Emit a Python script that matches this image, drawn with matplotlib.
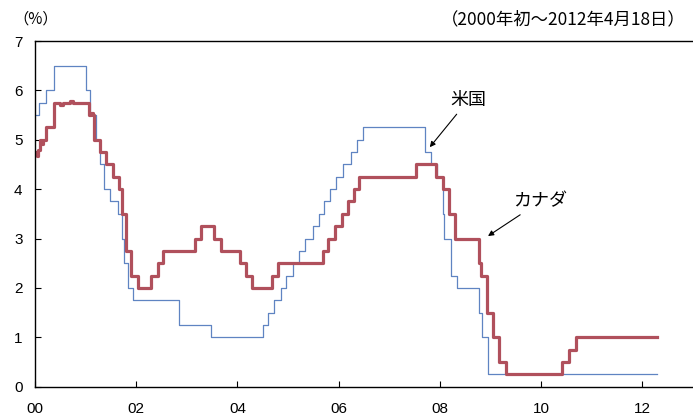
import pandas as pd
import matplotlib
matplotlib.use("Agg")
import matplotlib.pyplot as plt

plt.rcParams['font.family'] = ['Liberation Sans', 'Noto Sans CJK JP', 'DejaVu Sans']

# 米国 政策金利（FF誘導目標）
us_dates = ["2000-01-01", "2000-02-02", "2000-03-21", "2000-05-16", "2001-01-03",
            "2001-01-31", "2001-03-20", "2001-04-18", "2001-05-15", "2001-06-27",
            "2001-08-21", "2001-09-17", "2001-10-02", "2001-11-06", "2001-12-11",
            "2002-11-06", "2003-06-25", "2004-06-30", "2004-08-10", "2004-09-21",
            "2004-11-10", "2004-12-14", "2005-02-02", "2005-03-22", "2005-05-03",
            "2005-06-30", "2005-08-09", "2005-09-20", "2005-11-01", "2005-12-13",
            "2006-01-31", "2006-03-28", "2006-05-10", "2006-06-29", "2007-09-18",
            "2007-10-31", "2007-12-11", "2008-01-22", "2008-01-30", "2008-03-18",
            "2008-04-30", "2008-10-08", "2008-10-29", "2008-12-16", "2012-04-18"]
us_rates = [5.50, 5.75, 6.00, 6.50, 6.00,
            5.50, 5.00, 4.50, 4.00, 3.75,
            3.50, 3.00, 2.50, 2.00, 1.75,
            1.25, 1.00, 1.25, 1.50, 1.75,
            2.00, 2.25, 2.50, 2.75, 3.00,
            3.25, 3.50, 3.75, 4.00, 4.25,
            4.50, 4.75, 5.00, 5.25, 4.75,
            4.50, 4.25, 3.50, 3.00, 2.25,
            2.00, 1.50, 1.00, 0.25, 0.25]

# カナダ 政策金利（オーバーナイト金利誘導目標）
ca_dates = ["2000-01-01", "2000-01-12", "2000-01-25", "2000-02-03", "2000-02-20",
            "2000-03-01", "2000-03-22", "2000-05-17", "2000-07-01", "2000-07-20",
            "2000-09-10", "2000-10-01", "2001-01-23", "2001-02-10", "2001-02-20",
            "2001-03-06", "2001-04-17", "2001-05-29", "2001-07-17", "2001-08-28",
            "2001-09-17", "2001-10-23", "2001-11-27", "2002-01-15", "2002-04-16",
            "2002-06-04", "2002-07-16", "2003-03-04", "2003-04-15", "2003-07-15",
            "2003-09-03", "2004-01-20", "2004-03-02", "2004-04-13", "2004-09-08",
            "2004-10-19", "2005-09-07", "2005-10-18", "2005-12-06", "2006-01-24",
            "2006-03-07", "2006-04-25", "2006-05-24", "2007-07-10", "2007-12-04",
            "2008-01-22", "2008-03-04", "2008-04-22", "2008-10-08", "2008-10-21",
            "2008-12-09", "2009-01-20", "2009-03-03", "2009-04-21", "2010-06-01",
            "2010-07-20", "2010-09-08", "2012-04-18"]
ca_rates = [4.75, 4.68, 4.80, 5.00, 4.92,
            5.00, 5.25, 5.75, 5.70, 5.75,
            5.78, 5.75, 5.50, 5.55, 5.50,
            5.00, 4.75, 4.50, 4.25, 4.00,
            3.50, 2.75, 2.25, 2.00, 2.25,
            2.50, 2.75, 3.00, 3.25, 3.00,
            2.75, 2.50, 2.25, 2.00, 2.25,
            2.50, 2.75, 3.00, 3.25, 3.50,
            3.75, 4.00, 4.25, 4.50, 4.25,
            4.00, 3.50, 3.00, 2.50, 2.25,
            1.50, 1.00, 0.50, 0.25, 0.50,
            0.75, 1.00, 1.00]

xtick_years = [2000, 2002, 2004, 2006, 2008, 2010, 2012]
xtick_labels = ["00", "02", "04", "06", "08", "10", "12"]


def to_year(dates):
    d = pd.to_datetime(pd.Series(dates))
    return (d.dt.year + (d.dt.dayofyear - 1) / 365.25).values


fig = plt.figure(figsize=(6.93, 4.2), dpi=100)
ax = fig.add_axes([0.0505, 0.0795, 0.9495, 0.8228])

ax.step(to_year(us_dates), us_rates, where="post", color="#5f84c2", lw=0.9)
ax.step(to_year(ca_dates), ca_rates, where="post", color="#b0505c", lw=2.3)

ax.set_xlim(2000, 2013)
ax.set_ylim(0, 7)
ax.set_xticks(xtick_years)
ax.set_xticklabels(xtick_labels)
ax.set_yticks(range(0, 8))
ax.tick_params(direction="in", length=4, width=0.8, labelsize=11, pad=11)
ax.tick_params(axis="y", pad=9)
ax.spines["right"].set_visible(False)
for s in ["left", "bottom", "top"]:
    ax.spines[s].set_linewidth(1.0)

fig.text(13 / 693, 1 - 19 / 420, "（%）", fontsize=11, va="center", ha="left",
         family=["Noto Sans CJK JP"])
fig.text(686 / 693, 1 - 19 / 420, "（2000年初～2012年4月18日）", fontsize=12.5,
         va="center", ha="right", family=["Noto Sans CJK JP"])

ax.annotate("米国", xy=(7.80 + 2000, 4.85), xytext=(8.20 + 2000, 5.8),
            fontsize=13, family=["Noto Sans CJK JP"], va="center", ha="left",
            arrowprops=dict(arrowstyle="-|>", color="black", lw=0.8,
                            mutation_scale=8, shrinkA=2, shrinkB=0))
ax.annotate("カナダ", xy=(8.95 + 2000, 3.05), xytext=(9.45 + 2000, 3.75),
            fontsize=13, family=["Noto Sans CJK JP"], va="center", ha="left",
            arrowprops=dict(arrowstyle="-|>", color="black", lw=0.8,
                            mutation_scale=8, shrinkA=2, shrinkB=0))

fig.savefig("out.png", dpi=100)
